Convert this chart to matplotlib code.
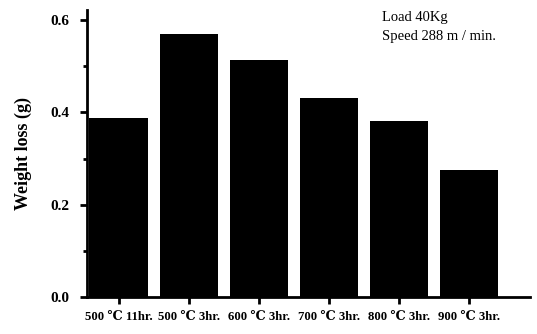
import matplotlib
matplotlib.use("Agg")
import matplotlib.pyplot as plt
from matplotlib.ticker import MultipleLocator

# data
conditions = ['500 ℃ 11hr.', '500 ℃ 3hr.', '600 ℃ 3hr.', '700 ℃ 3hr.', '800 ℃ 3hr.', '900 ℃ 3hr.']
weight_loss = [0.388, 0.570, 0.513, 0.431, 0.381, 0.275]

plt.rcParams['font.family'] = ['Liberation Serif', 'DejaVu Serif', 'DejaVu Sans', 'Noto Sans CJK SC']

fig = plt.figure(figsize=(5.37, 3.34), dpi=100)
ax = fig.add_axes([0.162, 0.111, 0.825, 0.859])

x = range(len(conditions))
ax.bar(x, weight_loss, width=0.83, color='black')

ax.set_xlim(-0.45, 5.87)
ax.set_ylim(0, 0.622)
ax.yaxis.set_minor_locator(MultipleLocator(0.1))
ax.set_yticks([0.0, 0.2, 0.4, 0.6])
ax.set_yticklabels(['0.0', '0.2', '0.4', '0.6'], fontsize=11, fontweight='bold')
ax.set_xticks(list(x))
ax.set_xticklabels(conditions, fontsize=9.2, fontweight='bold')

ax.spines['top'].set_visible(False)
ax.spines['right'].set_visible(False)
ax.spines['left'].set_linewidth(2)
ax.spines['bottom'].set_linewidth(2)
ax.tick_params(axis='both', which='major', direction='out', width=2, length=5)
ax.tick_params(axis='y', which='minor', direction='out', width=2, length=3)
ax.tick_params(axis='x', pad=5)
ax.tick_params(axis='y', pad=8)

ax.set_ylabel('Weight loss (g)', fontsize=13, fontweight='bold', labelpad=13)

ax.text(0.665, 0.995, 'Load 40Kg', transform=ax.transAxes, fontsize=10.5, va='top', ha='left')
ax.text(0.665, 0.93, 'Speed 288 m / min.', transform=ax.transAxes, fontsize=10.5, va='top', ha='left')

fig.savefig('out.png', dpi=100)
